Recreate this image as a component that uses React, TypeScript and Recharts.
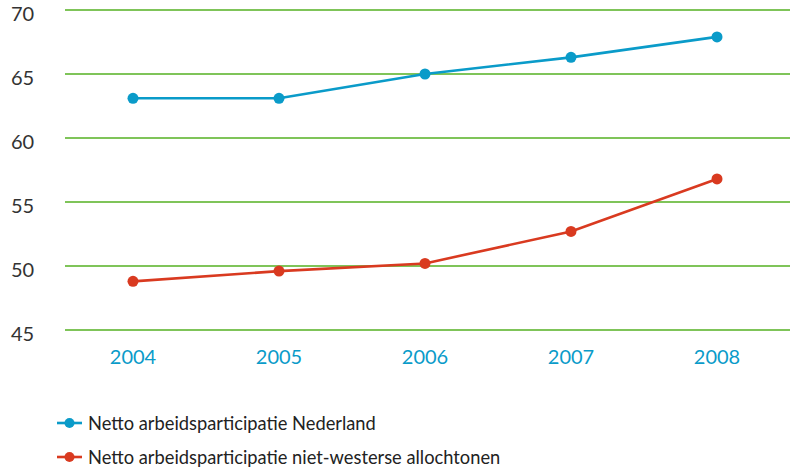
import { LineChart, Line, XAxis, YAxis, CartesianGrid } from "recharts";

const years = ["2004", "2005", "2006", "2007", "2008"];
const nederland = [63.1, 63.1, 65.0, 66.3, 67.9];
const nietWesters = [48.8, 49.6, 50.2, 52.7, 56.8];
const yTicks = [45, 50, 55, 60, 65, 70];

const BLUE = "#0a9bc9";
const RED = "#d93a20";
const GREEN = "#55b022";
const FONT = "Lato, 'Open Sans', sans-serif";

const data = years.map((year, i) => ({
  year,
  nederland: nederland[i],
  nietWesters: nietWesters[i],
}));

const legendItems = [
  { label: "Netto arbeidsparticipatie Nederland", color: BLUE },
  { label: "Netto arbeidsparticipatie niet-westerse allochtonen", color: RED },
];

function YTick({ y, payload }: any) {
  return (
    <text x={11} y={y + 11} fill="#333" fontSize={20} fontFamily={FONT} textAnchor="start">
      {payload.value}
    </text>
  );
}

function XTick({ x, y, payload }: any) {
  return (
    <text x={x} y={y + 26} fill={BLUE} fontSize={20} fontFamily={FONT} textAnchor="middle">
      {payload.value}
    </text>
  );
}

export default function App() {
  return (
    <div style={{ position: "absolute", left: 0, top: 0, width: 792, height: 469, background: "#fff" }}>
      <LineChart
        width={792}
        height={469}
        data={data}
        margin={{ top: 10, right: 2, left: 0, bottom: 99 }}
      >
        <CartesianGrid stroke={GREEN} strokeWidth={1.5} vertical={false} />
        <XAxis
          dataKey="year"
          axisLine={false}
          tickLine={false}
          padding={{ left: 68, right: 73 }}
          height={40}
          tick={<XTick />}
          interval={0}
        />
        <YAxis
          domain={[45, 70]}
          ticks={yTicks}
          axisLine={false}
          tickLine={false}
          width={65}
          tick={<YTick />}
        />
        <Line
          dataKey="nederland"
          stroke={BLUE}
          strokeWidth={2.6}
          dot={{ r: 5.5, fill: BLUE, stroke: BLUE, strokeWidth: 0 }}
          activeDot={false}
          isAnimationActive={false}
        />
        <Line
          dataKey="nietWesters"
          stroke={RED}
          strokeWidth={2.6}
          dot={{ r: 5.5, fill: RED, stroke: RED, strokeWidth: 0 }}
          activeDot={false}
          isAnimationActive={false}
        />
      </LineChart>
      <div style={{ position: "absolute", left: 57, top: 406, fontFamily: FONT, fontSize: 18.3, color: "#222" }}>
        {legendItems.map((item) => (
          <div key={item.label} style={{ display: "flex", alignItems: "center", height: 34 }}>
            <svg width={31} height={14}>
              <line x1={0} y1={7} x2={25} y2={7} stroke={item.color} strokeWidth={2.6} />
              <circle cx={12.5} cy={7} r={5} fill={item.color} />
            </svg>
            <span>{item.label}</span>
          </div>
        ))}
      </div>
    </div>
  );
}
